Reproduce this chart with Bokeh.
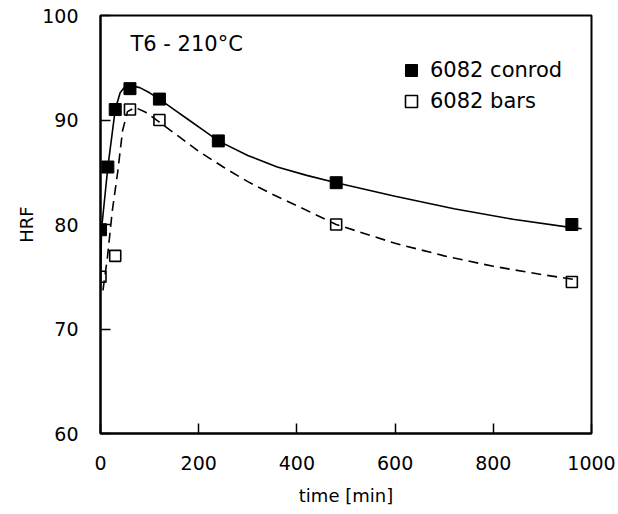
from bokeh.plotting import figure
from bokeh.models import FixedTicker, Legend, LegendItem, Label, Range1d
from bokeh.embed import file_html
from bokeh.resources import INLINE

# measured points
conrod_t = [0, 15, 30, 60, 120, 240, 480, 960]
conrod_hrf = [79.5, 85.5, 91, 93, 92, 88, 84, 80]
bars_t = [0, 30, 60, 120, 480, 960]
bars_hrf = [75, 77, 91, 90, 80, 74.5]

# fitted curves
conrod_fit_t = [0, 2, 15, 30, 40, 50, 60, 80, 100, 120, 150, 180, 210, 240, 300, 360, 420, 480,
                600, 720, 840, 960, 980]
conrod_fit_hrf = [73.5, 79.5, 85.5, 91.0, 92.6, 93.2, 93.3, 93.1, 92.6, 92.0, 91.0, 90.0, 89.0,
                  88.0, 86.6, 85.5, 84.7, 84.0, 82.7, 81.5, 80.5, 79.7, 79.6]
bars_fit_t = [5, 14, 24, 35, 45, 55, 70, 90, 120, 160, 200, 250, 300, 350, 400, 480, 600, 700,
              800, 900, 970]
bars_fit_hrf = [73.7, 76.8, 81.3, 85.0, 89.0, 90.8, 91.2, 90.8, 89.8, 88.4, 87.0, 85.5, 84.1,
                82.9, 81.8, 80.0, 78.2, 77.0, 76.0, 75.2, 74.7]

x_ticks = [0, 200, 400, 600, 800, 1000]
y_ticks = [60, 70, 80, 90, 100]

FONT = "DejaVu Sans"

p = figure(output_backend="svg", toolbar_location=None,
           x_range=Range1d(0, 1000), y_range=Range1d(60, 100),
           frame_width=491, frame_height=418,
           min_border_left=100, min_border_right=27, min_border_top=15, min_border_bottom=81)
p.background_fill_color = "white"
p.border_fill_color = "white"
p.outline_line_color = "black"
p.outline_line_width = 2
p.xgrid.visible = False
p.ygrid.visible = False

for ax in (p.xaxis, p.yaxis):
    ax.axis_line_color = "black"
    ax.axis_line_width = 2
    ax.major_tick_in = 10
    ax.major_tick_out = 0
    ax.major_tick_line_width = 1.5
    ax.minor_tick_line_color = None
    ax.major_label_text_font = FONT
    ax.major_label_text_font_size = "19px"
    ax.major_label_text_color = "black"
    ax.axis_label_text_font = FONT
    ax.axis_label_text_font_size = "18px"
    ax.axis_label_text_font_style = "normal"
    ax.axis_label_text_color = "black"

p.xaxis.ticker = FixedTicker(ticks=x_ticks)
p.yaxis.ticker = FixedTicker(ticks=y_ticks)
p.xaxis.axis_label = "time [min]"
p.yaxis.axis_label = "HRF"
p.xaxis.major_label_standoff = 22
p.yaxis.major_label_standoff = 22
p.xaxis.axis_label_standoff = 12
p.yaxis.axis_label_standoff = 2

p.line(conrod_fit_t, conrod_fit_hrf, line_color="black", line_width=1.6)
p.line(bars_fit_t, bars_fit_hrf, line_color="black", line_width=1.6, line_dash="10 6")

r1 = p.scatter(conrod_t, conrod_hrf, marker="square", size=12,
               fill_color="black", line_color="black")
r2 = p.scatter(bars_t, bars_hrf, marker="square", size=11,
               fill_color=None, line_color="black", line_width=1.6)

legend = Legend(items=[LegendItem(label="6082 conrod", renderers=[r1]),
                       LegendItem(label="6082 bars", renderers=[r2])],
                location=(296, 317), glyph_width=30, glyph_height=30,
                label_standoff=4, spacing=1, padding=0,
                border_line_color=None, background_fill_alpha=0,
                label_text_font=FONT, label_text_font_size="21px",
                label_text_color="black")
p.add_layout(legend, "center")

title = Label(x=30, y=390, x_units="screen", y_units="screen",
              text="T6 - 210°C", text_font=FONT, text_font_size="21px",
              text_baseline="middle", text_color="black")
p.add_layout(title)

open("out.html", "w").write(file_html(p, INLINE))
